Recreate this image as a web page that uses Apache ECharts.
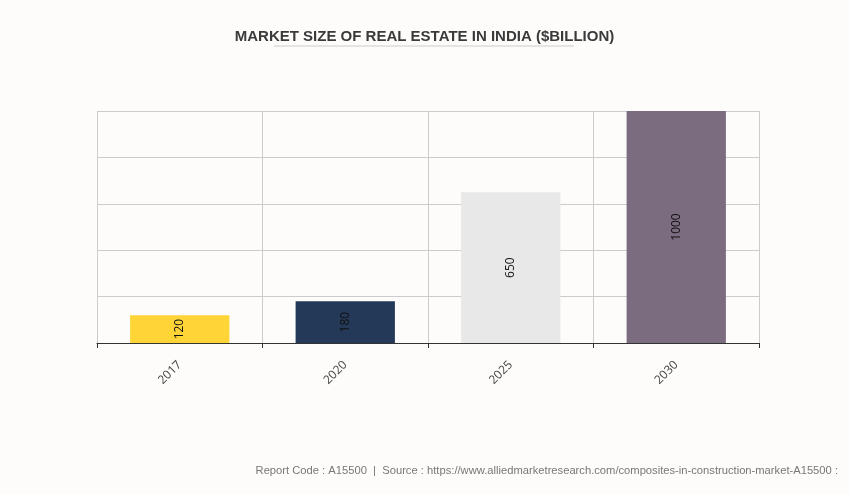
<!DOCTYPE html>
<html><head><meta charset="utf-8">
<script src="https://cdn.jsdelivr.net/npm/echarts@6/dist/echarts.min.js"></script>
<style>html,body{margin:0;padding:0;background:#fdfcfb;}#c{width:849px;height:494px;}</style>
</head><body><div id="c"></div>
<script>
var categories = ['2017', '2020', '2025', '2030'];
var values = [120, 180, 650, 1000];
var barColors = ['#fed437', '#243858', '#e8e8e8', '#7b6c80'];
var titleText = 'MARKET SIZE OF REAL ESTATE IN INDIA ($BILLION)';
var footerText = 'Report Code : A15500  |  Source : https://www.alliedmarketresearch.com/composites-in-construction-market-A15500 :';

var chart = echarts.init(document.getElementById('c'));
chart.setOption({
  backgroundColor: '#fdfcfb',
  animation: false,
  title: {
    text: titleText, left: 'center', top: 24,
    textStyle: { fontFamily: 'Liberation Sans, Arial', fontSize: 15, fontWeight: 'bold', color: '#3a3a3a' }
  },
  graphic: [
    { type: 'line', shape: { x1: 274, y1: 46, x2: 574, y2: 46 }, style: { stroke: '#cccccc', lineWidth: 1 } },
    { type: 'text', right: 11, top: 465, style: { text: footerText, fill: '#777777', font: '11.2px Liberation Sans, Arial' } }
  ],
  grid: { left: 97, right: 90, top: 111, bottom: 151 },
  xAxis: {
    type: 'category', data: categories,
    axisLine: { lineStyle: { color: '#333333' } },
    axisTick: { show: true, length: 5, lineStyle: { color: '#333333' } },
    axisLabel: { rotate: 45, color: '#444444', fontFamily: 'Open Sans, Liberation Sans', fontSize: 12, margin: 20 },
    splitLine: { show: true, lineStyle: { color: '#cccccc' } }
  },
  yAxis: {
    type: 'value', min: 0, max: 1000, interval: 200,
    axisLabel: { show: false }, axisLine: { show: false }, axisTick: { show: false },
    splitLine: { lineStyle: { color: '#cccccc' } }
  },
  series: [{
    type: 'bar', barWidth: '60%',
    data: values.map(function (v, i) { return { value: v, itemStyle: { color: barColors[i] } }; }),
    label: { show: true, position: 'inside', rotate: 90, color: '#111111', fontFamily: 'Open Sans, Liberation Sans', fontSize: 12 }
  }]
});
</script></body></html>
